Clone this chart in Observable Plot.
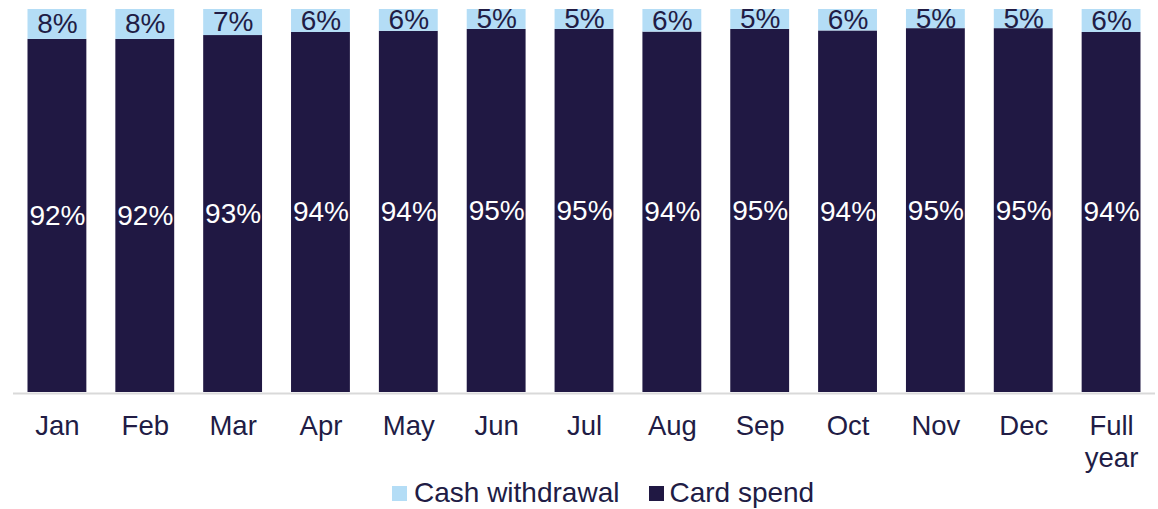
<!DOCTYPE html>
<html>
<head>
<meta charset="utf-8">
<script src="https://cdn.jsdelivr.net/npm/d3@7"></script>
<script src="https://cdn.jsdelivr.net/npm/@observablehq/plot@0.6"></script>
<style>
  html, body { margin: 0; padding: 0; background: #fff; }
  body { width: 1158px; height: 509px; overflow: hidden; font-family: "Liberation Sans", Arial, sans-serif; }
  #legend { display: flex; align-items: center; height: 34px; padding-top: 2px; padding-left: 392px; box-sizing: border-box; font-size: 28px; color: #211c45; }
  .sw { width: 15px; height: 15px; display: inline-block; }
</style>
</head>
<body>
<div id="chart"></div>
<div id="legend">
  <span class="sw" style="background:#b4ddf6"></span><span style="margin-left:7px">Cash withdrawal</span>
  <span class="sw" style="background:#201843;margin-left:30px"></span><span style="margin-left:5px">Card spend</span>
</div>
<script>
const months = ["Jan","Feb","Mar","Apr","May","Jun","Jul","Aug","Sep","Oct","Nov","Dec","Full year"];
const cardSpend = [92.2, 92.2, 93.2, 94.0, 94.3, 94.8, 94.8, 94.1, 94.8, 94.4, 95.0, 95.0, 94.0];
const cashWithdrawal = [7.8, 7.8, 6.8, 6.0, 5.7, 5.2, 5.2, 5.9, 5.2, 5.6, 5.0, 5.0, 6.0];
const cardLabels = [92, 92, 93, 94, 94, 95, 95, 94, 95, 94, 95, 95, 94];
const cashLabels = [8, 8, 7, 6, 6, 5, 5, 6, 5, 6, 5, 5, 6];

const CARD = "#201843", CASH = "#b4ddf6", TEXT = "#211c45";

const rows = months.map((m, i) => ({month: m, card: cardSpend[i], cash: cashWithdrawal[i], cardLabel: cardLabels[i], cashLabel: cashLabels[i]}));
const long = [];
rows.forEach(r => {
  long.push({month: r.month, series: "Card spend", value: r.card});
  long.push({month: r.month, series: "Cash withdrawal", value: r.cash});
});

const chart = Plot.plot({
  width: 1158,
  height: 475,
  marginTop: 9,
  marginBottom: 83,
  marginLeft: 13,
  marginRight: 3,
  style: {fontFamily: "'Liberation Sans', Arial, sans-serif", background: "#fff"},
  x: {domain: months, paddingInner: 0.33, paddingOuter: 0.165, round: false, label: null},
  y: {domain: [0, 100], axis: null},
  color: {domain: ["Cash withdrawal", "Card spend"], range: [CASH, CARD]},
  marks: [
    Plot.barY(long, Plot.stackY({x: "month", y: "value", fill: "series"})),
    Plot.ruleY([0], {stroke: "#d9d9d9", strokeWidth: 2, dy: 1}),
    Plot.text(rows, {x: "month", y: d => d.card / 2, text: d => d.cardLabel + "%", fill: "white", fontSize: 28}),
    Plot.text(rows, {x: "month", y: d => d.card + d.cash / 2, text: d => d.cashLabel + "%", fill: TEXT, fontSize: 28}),
    Plot.axisX({tickSize: 0, tickPadding: 20, fontSize: 27.5, fill: TEXT, lineHeight: 1.15,
      tickFormat: d => d === "Full year" ? "Full\nyear" : d, label: null})
  ]
});
document.getElementById("chart").appendChild(chart);
</script>
</body>
</html>
